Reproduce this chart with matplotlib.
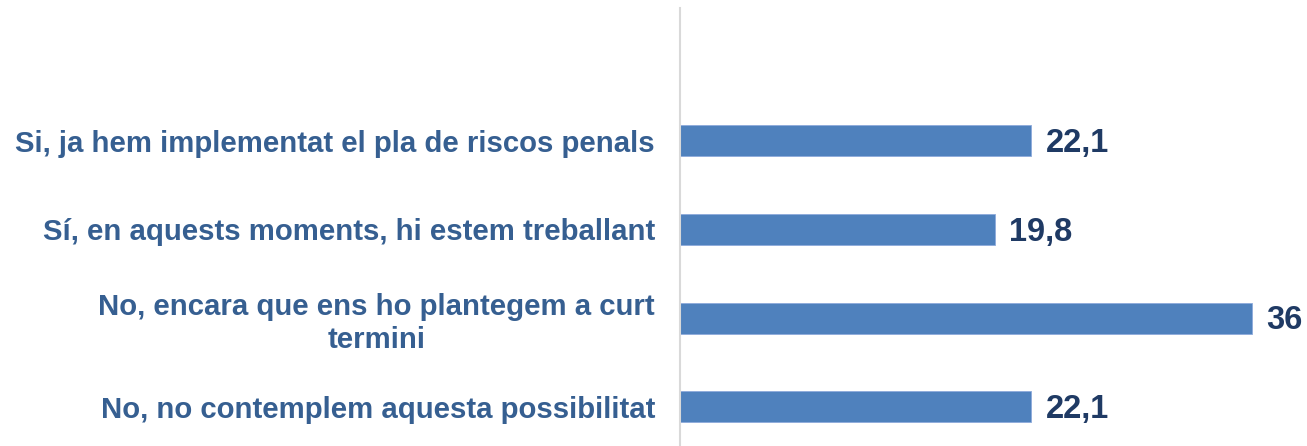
import matplotlib.pyplot as plt

categories = [
    "Si, ja hem implementat el pla de riscos penals",
    "Sí, en aquests moments, hi estem treballant",
    "No, encara que ens ho plantegem a curt\ntermini",
    "No, no contemplem aquesta possibilitat",
]
values = [22.1, 19.8, 36, 22.1]
value_labels = ["22,1", "19,8", "36", "22,1"]

W, H = 1307, 446
fig = plt.figure(figsize=(W / 100, H / 100), dpi=100)
# axes from x=680 to right edge, y from 8px to slightly below bottom
ax = fig.add_axes([680 / W, -5 / H, 1 - 680 / W, (H + 5 - 8) / H])

pos = list(range(len(categories)))
ax.barh(pos, values, height=0.35, color="#4F81BD", edgecolor="#8EAADB", linewidth=0.6)
ax.set_ylim(3.5, -1.5)
ax.set_xlim(0, 39.46)

for p, v, lab in zip(pos, values, value_labels):
    ax.text(v + 0.9, p + 0.03, lab, va="center", ha="left", fontsize=23.5,
            fontweight="bold", color="#1F3A64", family="Liberation Sans")

ax.set_yticks(pos)
ax.set_yticklabels(categories, fontsize=21.2, fontweight="bold", color="#365F91",
                   family="Liberation Sans", multialignment="center", linespacing=1.2)
ax.tick_params(axis="y", length=0, pad=18)
ax.set_xticks([])
for s in ["top", "right", "bottom"]:
    ax.spines[s].set_visible(False)
ax.spines["left"].set_color("#D9D9D9")
ax.spines["left"].set_linewidth(1.5)

fig.savefig("out.png", dpi=100)
